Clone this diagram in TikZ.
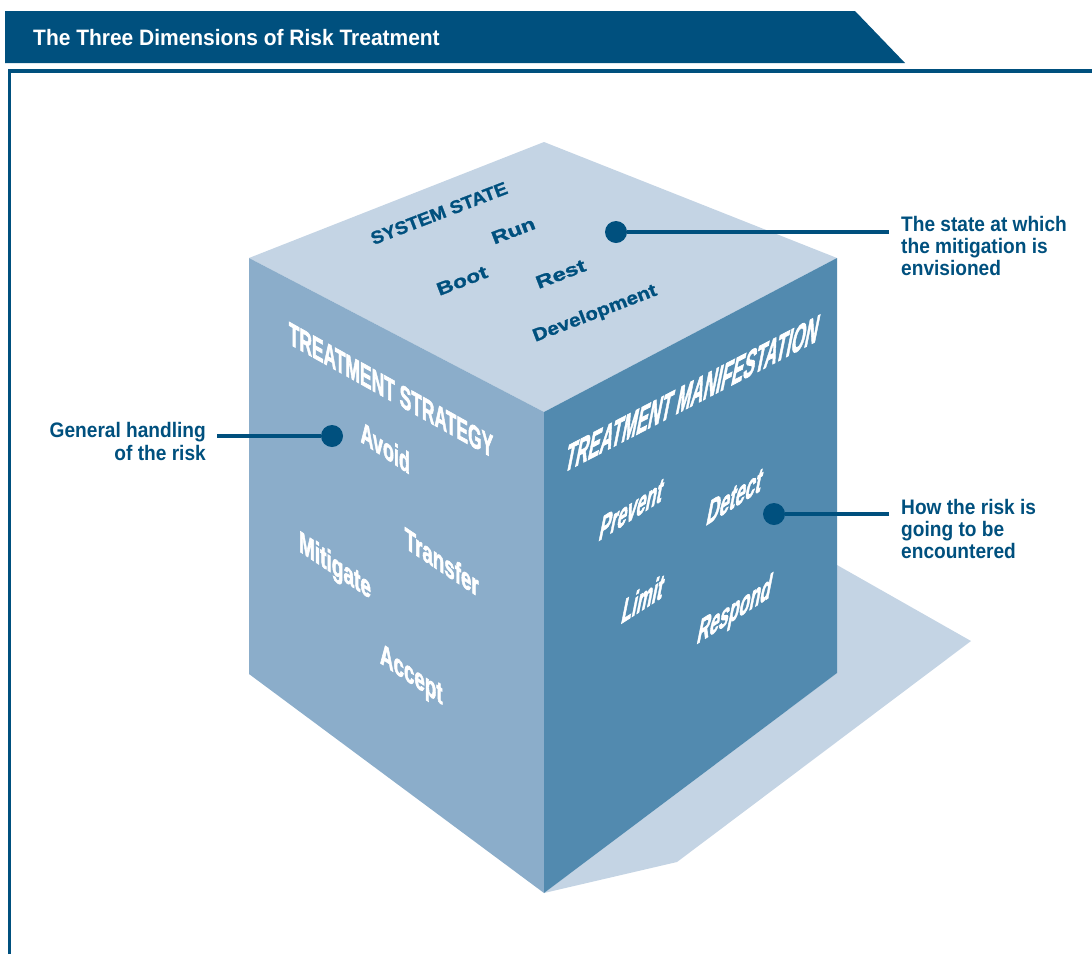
\documentclass[tikz,border=0pt]{standalone}
\usepackage{fontspec}
\setmainfont{Liberation Sans}
\newfontfamily\labfont[FakeStretch=0.91]{Liberation Sans}
\newfontfamily\ttlfont[FakeStretch=0.94]{Liberation Sans}
\newfontfamily\facefont[BoldFeatures={FakeBold=2.5}]{Liberation Sans}
\newfontfamily\topfont[BoldFeatures={FakeBold=1.2}]{Liberation Sans}
\definecolor{navy}{HTML}{00507E}
\definecolor{topc}{HTML}{C4D4E4}
\definecolor{leftc}{HTML}{8BADCA}
\definecolor{rightc}{HTML}{528AAF}
\begin{document}
\begin{tikzpicture}[x=1pt,y=1pt,
  lbl/.style={font=\labfont\bfseries\fontsize{21}{22.4}\selectfont, text=navy, inner sep=0pt},
  dot/.style={circle, fill=navy, minimum size=22pt, inner sep=0pt},
  conn/.style={draw=navy, line width=4pt},
  toptxt/.style={font=\topfont\bfseries\fontsize{18}{18}\selectfont, text=navy, transform shape, rotate=21, xscale=#1, inner sep=0pt},
  lefttxt/.style n args={3}{font=\facefont\bfseries\fontsize{#3}{#3}\selectfont, text=white, transform shape, yslant=-#2, xscale=#1, inner sep=0pt},
  righttxt/.style n args={3}{font=\facefont\bfseries\fontsize{#3}{#3}\selectfont, text=white, transform shape, cm={#1,#2,0.2,1,(0,0)}, inner sep=0pt}
]
\useasboundingbox (0,0) rectangle (1092,-954);
% header banner and frame
\fill[navy] (5,-11) -- (855,-11) -- (905,-63) -- (5,-63) -- cycle;
\node[font=\ttlfont\bfseries\fontsize{22.3}{24}\selectfont, text=white, anchor=base west, inner sep=0pt] (title) at (33,-45) {The Three Dimensions of Risk Treatment};
\draw[navy, line width=3.6pt] (9.5,-954) -- (9.5,-71) -- (1092,-71);
% shadow
\fill[topc] (837,-565) -- (971,-641) -- (677,-862) -- (544,-893) -- (837,-673) -- cycle;
% cube faces
\fill[topc] (249,-258) -- (544,-142) -- (837,-258) -- (544,-412) -- cycle;
\fill[leftc] (249,-258) -- (544,-412) -- (544,-893) -- (249,-674) -- cycle;
\fill[rightc] (544,-412) -- (837,-258) -- (837,-673) -- (544,-893) -- cycle;
% top face texts
\node[toptxt=1.07] (ss) at (439,-213.3) {SYSTEM STATE};
\node[toptxt=1.29] (run) at (513.3,-230.7) {Run};
\node[toptxt=1.29] (boot) at (462,-280.7) {Boot};
\node[toptxt=1.33] (rest) at (560.7,-274) {Rest};
\node[toptxt=1.16] (dev) at (595,-314) {Development};
% left face texts
\node[lefttxt={0.544}{0.56}{32}] (strat) at (391,-390) {TREATMENT STRATEGY};
\node[lefttxt={0.6}{0.67}{30}] (avoid) at (385.3,-447.5) {Avoid};
\node[lefttxt={0.635}{0.67}{30}] (mitig) at (335,-567.5) {Mitigate};
\node[lefttxt={0.625}{0.67}{30}] (transf) at (441.7,-561.7) {Transfer};
\node[lefttxt={0.625}{0.67}{30}] (accept) at (411.3,-676.7) {Accept};
% right face texts
\node[righttxt={0.437}{0.227}{40}] (manif) at (692.5,-393.3) {TREATMENT MANIFESTATION};
\node[righttxt={0.476}{0.305}{36}] (prevent) at (631.7,-509.2) {Prevent};
\node[righttxt={0.496}{0.317}{36}] (detect) at (735,-496.3) {Detect};
\node[righttxt={0.476}{0.305}{36}] (limit) at (643.3,-598.3) {Limit};
\node[righttxt={0.476}{0.305}{36}] (respond) at (734.5,-611.7) {Respond};
% labels
\node[lbl, anchor=north west, align=left] (labTop) at (901,-215.7) {The state at which\\the mitigation is\\envisioned};
\node[lbl, anchor=north west, align=left] (labRight) at (901,-498.7) {How the risk is\\going to be\\encountered};
\node[lbl, anchor=north east, align=right] (labLeft) at (206,-422.2) {General handling\\of the risk};
% connectors
\node[dot] (dotTop) at (616,-232) {};
\node[dot] (dotLeft) at (332,-436) {};
\node[dot] (dotRight) at (774,-514) {};
\coordinate (cTop) at (889,-232);
\coordinate (cRight) at (889,-514);
\coordinate (cLeft) at (217,-436);
\draw[conn] (cTop) -- (dotTop);
\draw[conn] (cRight) -- (dotRight);
\draw[conn] (cLeft) -- (dotLeft);
\end{tikzpicture}
\end{document}
